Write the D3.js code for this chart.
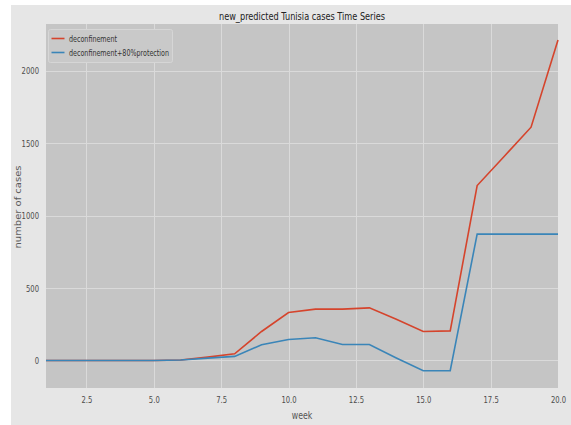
<!DOCTYPE html>
<html>
<head>
<meta charset="utf-8">
<script src="https://cdn.jsdelivr.net/npm/d3@7"></script>
<style>
  html, body { margin: 0; padding: 0; background: #ffffff; }
  svg { display: block; }
  text { font-family: "DejaVu Sans", sans-serif; }
</style>
</head>
<body>
<svg id="chart" width="571" height="425"></svg>
<script>
// Weekly predicted case counts for Tunisia
const weeks = [1, 2, 3, 4, 5, 6, 7, 8, 9, 10, 11, 12, 13, 14, 15, 16, 17, 18, 19, 20];
const deconfinement = [0, 0, 0, 0, 0, 3, 23, 46, 200, 331, 354, 354, 363, 285, 200, 204, 1207, 1408, 1610, 2212];
const deconfinementProtection = [0, 0, 0, 0, 0, 3, 16, 28, 108, 145, 157, 110, 110, 17, -71, -71, 872, 872, 872, 872];
const seriesNames = ["deconfinement", "deconfinement+80%protection"];
const xTicks = [2.5, 5.0, 7.5, 10.0, 12.5, 15.0, 17.5, 20.0];
const yTicks = [0, 500, 1000, 1500, 2000];

const svg = d3.select("#chart");
const W = 571, H = 425;
const plot = { left: 46, right: 558, top: 24, bottom: 388 };

// narrow the rendered text horizontally by a factor
function condense(sel, factor) {
  sel.each(function () {
    const len = this.getComputedTextLength();
    d3.select(this).attr("textLength", len * factor).attr("lengthAdjust", "spacingAndGlyphs");
  });
}

// figure background
svg.append("rect").attr("x", 11).attr("y", 5).attr("width", W - 11).attr("height", H - 5).attr("fill", "#e6e6e6");

const x = d3.scaleLinear().domain([1, 20]).range([plot.left, plot.right]);
const y = d3.scaleLinear().domain([-190, 2322]).range([plot.bottom, plot.top]);

// axes background
svg.append("rect")
  .attr("x", plot.left).attr("y", plot.top)
  .attr("width", plot.right - plot.left).attr("height", plot.bottom - plot.top)
  .attr("fill", "#c5c5c5");

// grid lines
const grid = svg.append("g").attr("stroke", "#dadada").attr("stroke-width", 1);
grid.selectAll(".gx").data(xTicks.filter(t => t < 20)).join("line")
  .attr("x1", d => Math.round(x(d)) + 0.5).attr("x2", d => Math.round(x(d)) + 0.5)
  .attr("y1", plot.top).attr("y2", plot.bottom);
grid.selectAll(".gy").data(yTicks).join("line")
  .attr("y1", d => Math.round(y(d)) + 0.5).attr("y2", d => Math.round(y(d)) + 0.5)
  .attr("x1", plot.left).attr("x2", plot.right);

// axes with tick labels only
const xAxis = svg.append("g")
  .attr("transform", `translate(0,${plot.bottom})`)
  .call(d3.axisBottom(x).tickValues(xTicks).tickFormat(d3.format(".1f")).tickSize(0).tickPadding(8));
const yAxis = svg.append("g")
  .attr("transform", `translate(${plot.left},0)`)
  .call(d3.axisLeft(y).tickValues(yTicks).tickFormat(d3.format("d")).tickSize(0).tickPadding(7));
[xAxis, yAxis].forEach(a => {
  a.select(".domain").remove();
  a.selectAll("text").attr("fill", "#4d4d4d").style("font-size", "9.5px")
    .style("font-family", "\"DejaVu Sans\", sans-serif");
  condense(a.selectAll("text"), 0.72);
});

// series lines
const colors = ["#d5442c", "#3a85b8"];
const line = d3.line().x(d => x(d[0])).y(d => y(d[1]));
[deconfinement, deconfinementProtection].forEach((vals, i) => {
  svg.append("path")
    .datum(weeks.map((w, j) => [w, vals[j]]))
    .attr("fill", "none")
    .attr("stroke", colors[i])
    .attr("stroke-width", 1.6)
    .attr("d", line);
});

// title and axis labels
const title = svg.append("text").attr("x", (plot.left + plot.right) / 2).attr("y", 19.5)
  .attr("text-anchor", "middle").attr("fill", "#222").style("font-size", "11px")
  .text("new_predicted Tunisia cases Time Series");
title.attr("textLength", 166).attr("lengthAdjust", "spacingAndGlyphs");

const xl = svg.append("text").attr("x", (plot.left + plot.right) / 2).attr("y", 418.5)
  .attr("text-anchor", "middle").attr("fill", "#555").style("font-size", "10px")
  .text("week");
condense(xl, 0.78);

svg.append("text")
  .attr("transform", `translate(20.5,${(plot.top + plot.bottom) / 2 + 1}) rotate(-90)`)
  .attr("text-anchor", "middle").attr("fill", "#5a5a5a").style("font-size", "9px")
  .attr("textLength", 83).attr("lengthAdjust", "spacingAndGlyphs")
  .text("number of cases");

// legend
const lg = svg.append("g").attr("transform", "translate(48.5,29.5)");
lg.append("rect").attr("width", 124).attr("height", 33).attr("rx", 2)
  .attr("fill", "#c9c9c9").attr("stroke", "#d6d6d6");
const legendWidths = [48, 100];
seriesNames.forEach((name, i) => {
  const cy = 9 + i * 14;
  lg.append("line").attr("x1", 3).attr("x2", 16).attr("y1", cy).attr("y2", cy)
    .attr("stroke", colors[i]).attr("stroke-width", 1.6);
  lg.append("text").attr("x", 20.5).attr("y", cy + 3.5).attr("fill", "#333")
    .style("font-size", "9.5px")
    .attr("textLength", legendWidths[i]).attr("lengthAdjust", "spacingAndGlyphs")
    .text(name);
});
</script>
</body>
</html>
